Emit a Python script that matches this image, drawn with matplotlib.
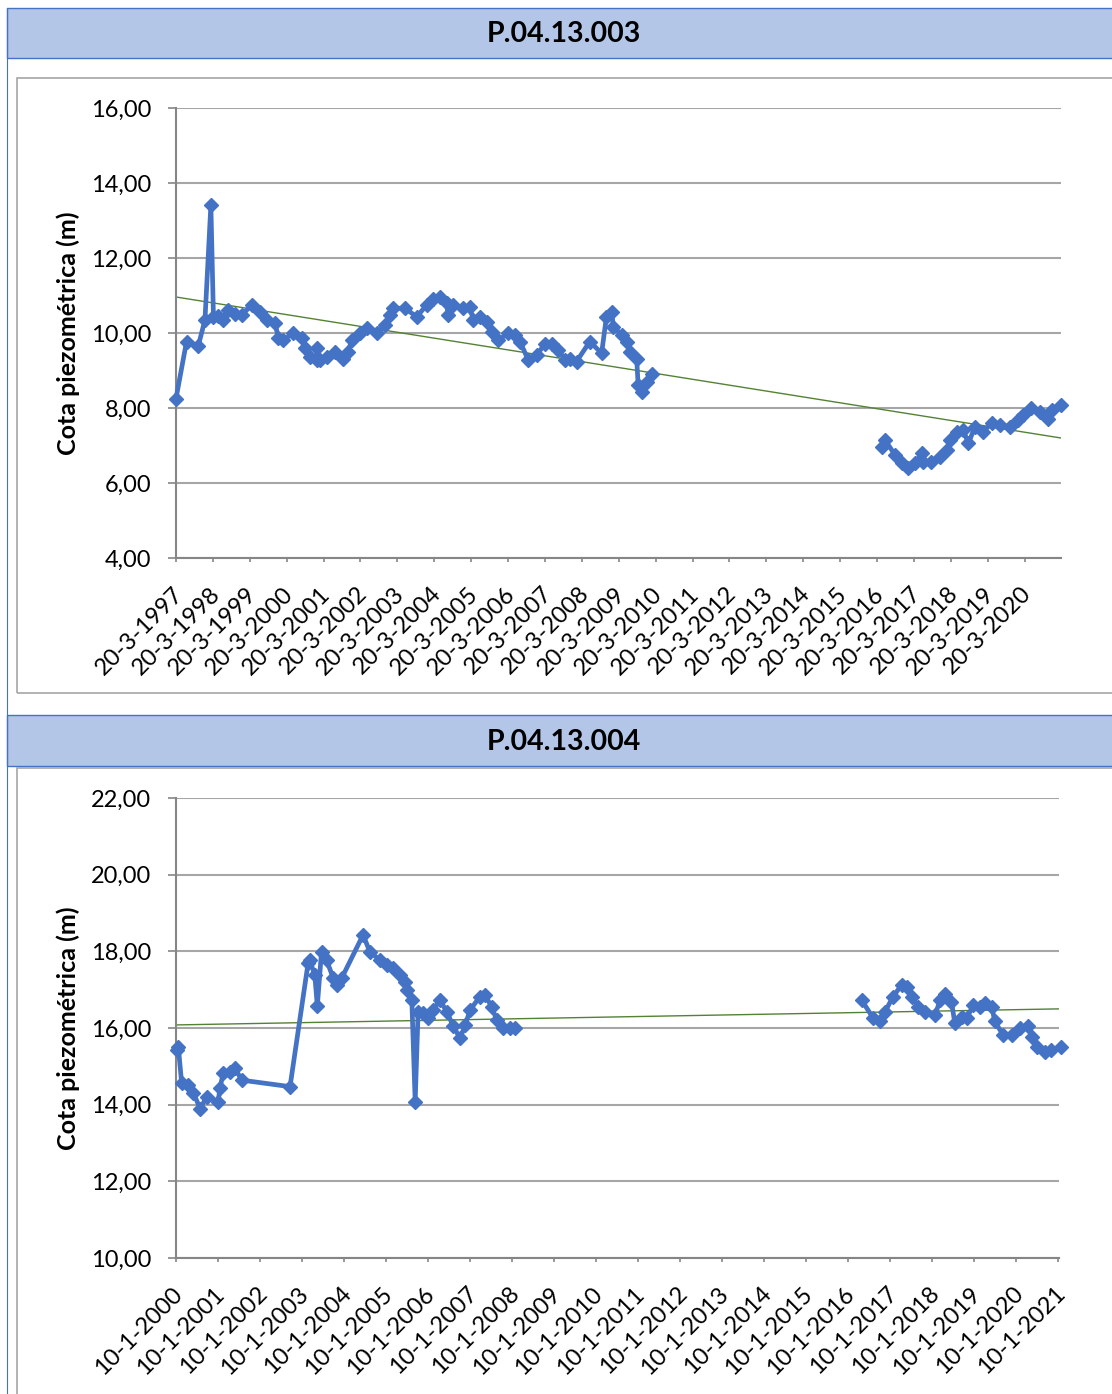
import numpy as np
import matplotlib
matplotlib.use("Agg")
from matplotlib import pyplot as plt
from matplotlib.patches import Rectangle
from matplotlib.lines import Line2D
from matplotlib.ticker import FuncFormatter
from matplotlib.transforms import ScaledTranslation

plt.rcParams['font.family'] = ['Lato', 'DejaVu Sans']

# P.04.13.003 (anos decimais, cota em m)
anos_003 = [1997.215, 1997.50, 1997.82, 1998.00, 1998.16, 1998.23, 1998.36, 1998.50, 1998.63,
            1998.81, 1999.00, 1999.27, 1999.49, 1999.67, 1999.90, 1999.99, 2000.12, 2000.39,
            2000.62, 2000.71, 2000.85, 2001.03, 2001.04, 2001.12, 2001.30, 2001.52, 2001.75,
            2001.88, 2001.98, 2002.20, 2002.38, 2002.65, 2002.88, 2003.01, 2003.10, 2003.42,
            2003.74, 2004.01, 2004.19, 2004.37, 2004.55, 2004.59, 2004.73, 2005.00, 2005.18,
            2005.27, 2005.45, 2005.64, 2005.77, 2005.95, 2006.22, 2006.40, 2006.54, 2006.76,
            2006.99, 2007.22, 2007.40, 2007.58, 2007.76, 2007.89, 2008.07, 2008.43, 2008.75,
            2008.88, 2009.02, 2009.07, 2009.29, 2009.43, 2009.52, 2009.70, 2009.74, 2009.84,
            2009.97, 2010.11, 2013.0,
            2016.34, 2016.43, 2016.70, 2016.88, 2017.06, 2017.24, 2017.42, 2017.47, 2017.69,
            2017.92, 2018.10, 2018.19, 2018.37, 2018.55, 2018.69, 2018.87, 2019.09, 2019.32,
            2019.55, 2019.82, 2020.04, 2020.18, 2020.40, 2020.63, 2020.85, 2020.95, 2021.20]
cota_003 = [8.25, 9.77, 9.66, 10.35, 13.41, 10.43, 10.45, 10.35, 10.61,
            10.52, 10.48, 10.75, 10.57, 10.35, 10.27, 9.86, 9.81, 9.99,
            9.86, 9.59, 9.37, 9.28, 9.59, 9.28, 9.37, 9.50, 9.32,
            9.50, 9.81, 9.99, 10.13, 9.99, 10.21, 10.48, 10.66, 10.66,
            10.43, 10.75, 10.92, 10.96, 10.79, 10.48, 10.75, 10.66, 10.70,
            10.35, 10.43, 10.30, 10.04, 9.81, 9.99, 9.95, 9.77, 9.28,
            9.41, 9.72, 9.72, 9.55, 9.28, 9.32, 9.24, 9.77, 9.46,
            10.43, 10.57, 10.17, 9.95, 9.77, 9.50, 9.32, 8.61, 8.43,
            8.70, 8.92, np.nan,
            6.97, 7.15, 6.75, 6.53, 6.39, 6.53, 6.79, 6.57, 6.57,
            6.70, 6.88, 7.15, 7.37, 7.41, 7.06, 7.50, 7.37, 7.59,
            7.55, 7.50, 7.68, 7.81, 7.99, 7.90, 7.72, 7.95, 8.08]
tend_003 = [10.96, 7.20]
ticks_003 = list(range(1997, 2021))

# P.04.13.004
anos_004 = [2000.04, 2000.08, 2000.16, 2000.32, 2000.44, 2000.60, 2000.76, 2001.03, 2001.07,
            2001.15, 2001.31, 2001.43, 2001.59, 2002.74, 2003.17, 2003.21, 2003.33, 2003.39,
            2003.49, 2003.61, 2003.77, 2003.85, 2003.97, 2004.48, 2004.64, 2004.88, 2005.04,
            2005.20, 2005.36, 2005.48, 2005.53, 2005.64, 2005.72, 2005.79, 2005.91, 2006.03,
            2006.15, 2006.31, 2006.47, 2006.63, 2006.79, 2006.91, 2007.03, 2007.26, 2007.38,
            2007.54, 2007.66, 2007.82, 2007.98, 2008.10, 2012.0,
            2016.35, 2016.63, 2016.79, 2016.91, 2017.10, 2017.30, 2017.42, 2017.54, 2017.70,
            2017.86, 2018.10, 2018.22, 2018.33, 2018.49, 2018.57, 2018.73, 2018.85, 2019.01,
            2019.17, 2019.29, 2019.45, 2019.52, 2019.72, 2019.92, 2020.12, 2020.32, 2020.40,
            2020.52, 2020.72, 2020.87, 2021.10]
cota_004 = [15.43, 15.51, 14.56, 14.51, 14.30, 13.90, 14.21, 14.08, 14.43,
            14.82, 14.86, 14.95, 14.64, 14.47, 17.69, 17.77, 17.38, 16.57,
            17.99, 17.77, 17.30, 17.12, 17.30, 18.43, 17.99, 17.77, 17.64,
            17.56, 17.38, 17.21, 16.99, 16.73, 14.08, 16.43, 16.38, 16.25,
            16.47, 16.73, 16.43, 16.04, 15.73, 16.08, 16.47, 16.82, 16.86,
            16.56, 16.21, 15.99, 15.99, 15.99, np.nan,
            16.73, 16.25, 16.17, 16.43, 16.82, 17.12, 17.08, 16.82, 16.56,
            16.43, 16.34, 16.73, 16.90, 16.69, 16.12, 16.29, 16.25, 16.60,
            16.56, 16.64, 16.56, 16.17, 15.82, 15.82, 15.99, 16.04, 15.77,
            15.51, 15.38, 15.43, 15.51]
tend_004 = [16.08, 16.50]
ticks_004 = list(range(2000, 2022))

W, H = 1112, 1394
fig = plt.figure(figsize=(W / 100, H / 100), dpi=100)


def px_rect(x0, y0, x1, y1, **kw):
    # retangulo em pixeis (origem no topo)
    r = Rectangle((x0 / W, 1 - y1 / H), (x1 - x0) / W, (y1 - y0) / H,
                  transform=fig.transFigure, **kw)
    fig.add_artist(r)


def px_axes(x0, y0, x1, y1):
    return fig.add_axes([x0 / W, 1 - y1 / H, (x1 - x0) / W, (y1 - y0) / H])


# linha azul da tabela a esquerda
fig.add_artist(Line2D([7 / W, 7 / W], [0, 1 - 8 / H], transform=fig.transFigure,
                      color='#4472C4', lw=0.8))

# cabecalhos
for (y0, y1, nome) in [(8, 58, 'P.04.13.003'), (715, 766, 'P.04.13.004')]:
    px_rect(7, y0, W + 5, y1, facecolor='#B4C6E7', edgecolor='#4472C4', lw=1.0)
    fig.text(564 / W, 1 - ((y0 + y1) / 2 + 1) / H, nome, ha='center', va='center',
             fontsize=20.5, fontweight='bold', color='black')

# caixas dos graficos
px_rect(17, 78, W + 5, 693, facecolor='none', edgecolor='#A6A6A6', lw=1.2)
px_rect(17, 768, W + 5, H + 5, facecolor='none', edgecolor='#A6A6A6', lw=1.2)

desloc = ScaledTranslation(-4 / 100, 0, fig.dpi_scale_trans)


def desenha(ax, anos, cota, tend, ticks, rotulos, dia, xlim, ylim, yticks, largura):
    ax.set_xlim(*xlim)
    ax.set_ylim(*ylim)
    ax.set_yticks(yticks)
    ax.yaxis.set_major_formatter(FuncFormatter(lambda v, p: f'{v:.2f}'.replace('.', ',')))
    ax.grid(axis='y', color='#A6A6A6', lw=1.5)
    ax.set_axisbelow(True)
    for s in ['top', 'right']:
        ax.spines[s].set_visible(False)
    for s in ['left', 'bottom']:
        ax.spines[s].set_color('#868686')
        ax.spines[s].set_linewidth(1.5)
    ax.tick_params(axis='y', length=6, width=1.2, color='#868686', labelsize=17, pad=12)
    ax.tick_params(axis='x', length=3, width=1.2, color='#868686', labelsize=17, pad=15)
    ax.set_xticks([t + dia for t in ticks])
    ax.set_xticklabels(rotulos, rotation=45, ha='right', va='top', rotation_mode='anchor')
    for lb in ax.get_xticklabels():
        lb.set_transform(lb.get_transform() + desloc)
    ax.plot([xlim[0], anos[-1]], tend, color='#548235', lw=1.0, zorder=2)
    ax.plot(anos, cota, color='#4472C4', lw=3.4, marker='D', markersize=7,
            clip_on=False, zorder=3)
    ax.set_ylabel('Cota piezométrica (m)', fontsize=18, fontweight='bold')
    ax.yaxis.set_label_coords((80 - 176) / largura, 0.5)


ax1 = px_axes(176, 108, 1061, 558)
desenha(ax1, anos_003, cota_003, tend_003, ticks_003, [f'20-3-{t}' for t in ticks_003],
        0.215, (1997.215, 2021.2), (4, 16), np.arange(4, 17, 2), 885)

ax2 = px_axes(176, 798, 1059, 1258)
desenha(ax2, anos_004, cota_004, tend_004, ticks_004, [f'10-1-{t}' for t in ticks_004],
        0.025, (2000.025, 2021.05), (10, 22), np.arange(10, 23, 2), 883)

fig.savefig('out.png', dpi=100)
